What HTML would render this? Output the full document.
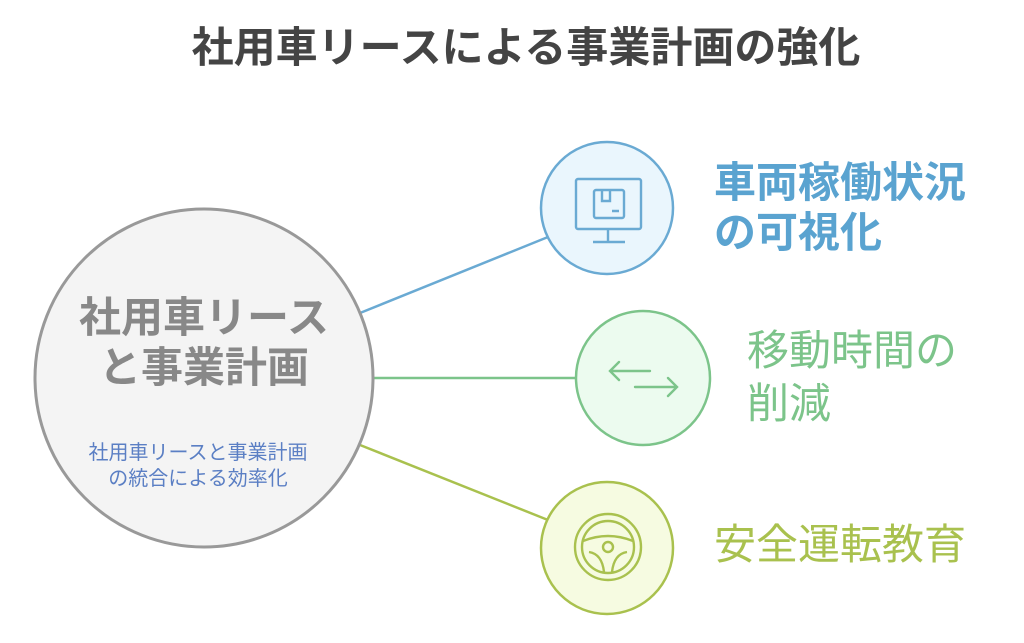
<!DOCTYPE html>
<html><head><meta charset="utf-8"><style>
body{margin:0;width:1024px;height:643px;background:#fff;overflow:hidden;font-family:"Liberation Sans","Noto Sans CJK JP",sans-serif;}
.t{position:absolute;white-space:nowrap;line-height:1;}
</style></head><body>
<svg width="1024" height="643" style="position:absolute;left:0;top:0">
<line x1="360" y1="313" x2="548" y2="237" stroke="#6aaad3" stroke-width="2.5"/>
<line x1="374" y1="378" x2="577" y2="378" stroke="#7cc48a" stroke-width="2.5"/>
<line x1="360" y1="445" x2="548" y2="520" stroke="#a9c14e" stroke-width="2.5"/>
<circle cx="204" cy="378" r="169" fill="#f4f4f4" stroke="#999" stroke-width="3"/>
<circle cx="607" cy="208" r="66" fill="#eaf6fd" stroke="#6aaad3" stroke-width="2.5"/>
<circle cx="643" cy="378" r="67" fill="#ecfbef" stroke="#7cc48a" stroke-width="2.5"/>
<circle cx="607" cy="548" r="66" fill="#f6fbe1" stroke="#a9c14e" stroke-width="2.5"/>
<g fill="none" stroke="#6aaad3" stroke-width="2.4">
<rect x="576" y="179" width="65" height="50" rx="2"/>
<line x1="608" y1="229" x2="608" y2="241"/><line x1="593" y1="242" x2="625" y2="242"/>
<rect x="594" y="190" width="30" height="28" rx="2"/>
<path d="M602 190v11h8v-11M612 211h7"/>
</g>
<g fill="none" stroke="#7cc48a" stroke-width="2.4" stroke-linecap="round">
<path d="M610 371h40M619 362l-9 9 9 9"/>
<path d="M635 387h42M668 378l9 9-9 9"/>
</g>
<g fill="none" stroke="#a9c14e" stroke-width="2.4">
<circle cx="608" cy="547" r="33"/><circle cx="608" cy="547" r="26"/><circle cx="608" cy="547" r="5"/>
<path d="M583 541q25-10 50 0M589 552q13 2 15 20M627 552q-13 2-15 20"/>
</g>
</svg>
<div class="t" style="left:14px;width:1024px;text-align:center;top:27px;font-size:42px;font-weight:bold;color:#444">社用車リースによる事業計画の強化</div>
<div class="t" style="left:34px;width:340px;text-align:center;top:293px;font-size:42px;font-weight:bold;color:#888;line-height:50px">社用車リース<br>と事業計画</div>
<div class="t" style="left:28px;width:340px;text-align:center;top:440px;font-size:20px;color:#5b7fc4;line-height:26px">社用車リースと事業計画<br>の統合による効率化</div>
<div class="t" style="left:714px;top:158px;font-size:42px;font-weight:bold;color:#5aa3d0;line-height:50px">車両稼働状況<br>の可視化</div>
<div class="t" style="left:747px;top:324px;font-size:42px;color:#7cc48a;line-height:53px">移動時間の<br>削減</div>
<div class="t" style="left:714px;top:524px;font-size:42px;color:#a9c14e">安全運転教育</div>
</body></html>
